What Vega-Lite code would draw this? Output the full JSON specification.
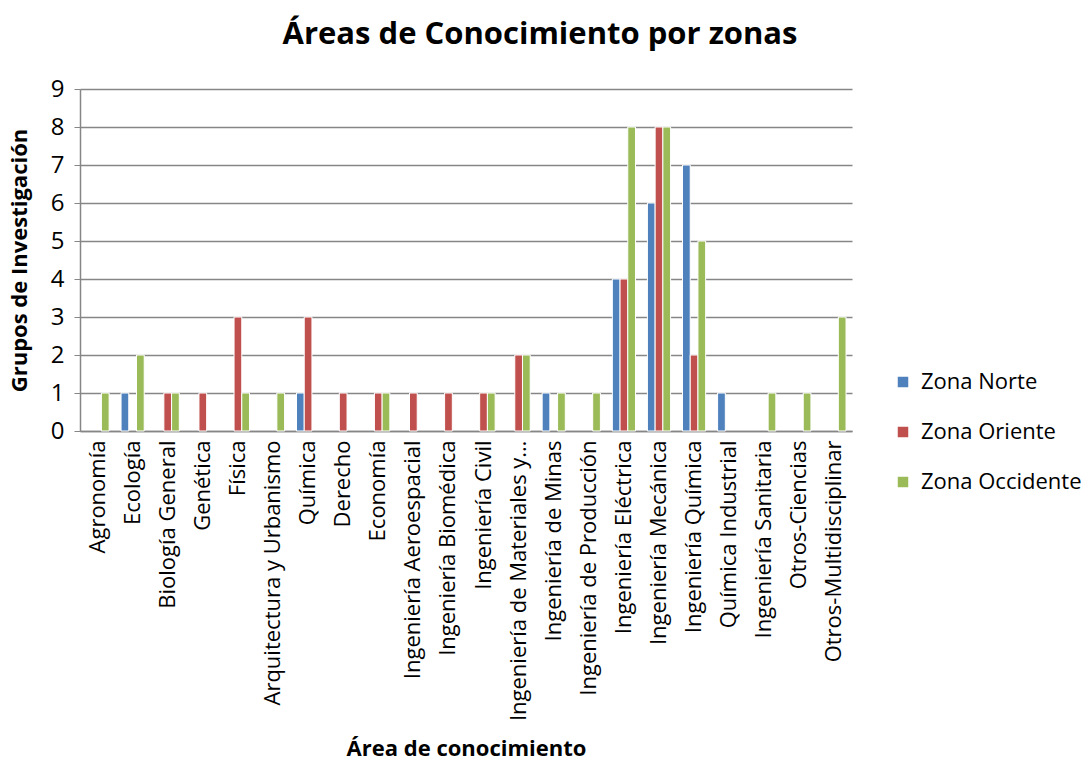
{
  "$schema": "https://vega.github.io/schema/vega-lite/v6.json",
  "autosize": {"type": "none"},
  "padding": {"left": 80, "top": 89, "right": 234, "bottom": 332},
  "width": 772,
  "height": 342,
  "background": "white",
  "title": {
    "text": "Áreas de Conocimiento por zonas",
    "font": "Open Sans",
    "fontSize": 31,
    "fontWeight": "bold",
    "color": "#000000",
    "anchor": "middle",
    "dx": 74,
    "offset": 26
  },
  "config": {
    "view": {"stroke": null},
    "font": "Open Sans"
  },
  "data": {
    "values": [
      {"area": "Agronomía", "zona": "Zona Occidente", "valor": 1},
      {"area": "Ecología", "zona": "Zona Norte", "valor": 1},
      {"area": "Ecología", "zona": "Zona Occidente", "valor": 2},
      {"area": "Biología General", "zona": "Zona Oriente", "valor": 1},
      {"area": "Biología General", "zona": "Zona Occidente", "valor": 1},
      {"area": "Genética", "zona": "Zona Oriente", "valor": 1},
      {"area": "Física", "zona": "Zona Oriente", "valor": 3},
      {"area": "Física", "zona": "Zona Occidente", "valor": 1},
      {"area": "Arquitectura y Urbanismo", "zona": "Zona Occidente", "valor": 1},
      {"area": "Química", "zona": "Zona Norte", "valor": 1},
      {"area": "Química", "zona": "Zona Oriente", "valor": 3},
      {"area": "Derecho", "zona": "Zona Oriente", "valor": 1},
      {"area": "Economía", "zona": "Zona Oriente", "valor": 1},
      {"area": "Economía", "zona": "Zona Occidente", "valor": 1},
      {"area": "Ingeniería Aeroespacial", "zona": "Zona Oriente", "valor": 1},
      {"area": "Ingeniería Biomédica", "zona": "Zona Oriente", "valor": 1},
      {"area": "Ingeniería Civil", "zona": "Zona Oriente", "valor": 1},
      {"area": "Ingeniería Civil", "zona": "Zona Occidente", "valor": 1},
      {"area": "Ingeniería de Materiales y…", "zona": "Zona Oriente", "valor": 2},
      {"area": "Ingeniería de Materiales y…", "zona": "Zona Occidente", "valor": 2},
      {"area": "Ingeniería de Minas", "zona": "Zona Norte", "valor": 1},
      {"area": "Ingeniería de Minas", "zona": "Zona Occidente", "valor": 1},
      {"area": "Ingeniería de Producción", "zona": "Zona Occidente", "valor": 1},
      {"area": "Ingeniería Eléctrica", "zona": "Zona Norte", "valor": 4},
      {"area": "Ingeniería Eléctrica", "zona": "Zona Oriente", "valor": 4},
      {"area": "Ingeniería Eléctrica", "zona": "Zona Occidente", "valor": 8},
      {"area": "Ingeniería Mecánica", "zona": "Zona Norte", "valor": 6},
      {"area": "Ingeniería Mecánica", "zona": "Zona Oriente", "valor": 8},
      {"area": "Ingeniería Mecánica", "zona": "Zona Occidente", "valor": 8},
      {"area": "Ingeniería Química", "zona": "Zona Norte", "valor": 7},
      {"area": "Ingeniería Química", "zona": "Zona Oriente", "valor": 2},
      {"area": "Ingeniería Química", "zona": "Zona Occidente", "valor": 5},
      {"area": "Química Industrial", "zona": "Zona Norte", "valor": 1},
      {"area": "Ingeniería Sanitaria", "zona": "Zona Occidente", "valor": 1},
      {"area": "Otros-Ciencias", "zona": "Zona Occidente", "valor": 1},
      {"area": "Otros-Multidisciplinar", "zona": "Zona Occidente", "valor": 3}
    ]
  },
  "mark": {"type": "bar", "stroke": "white", "strokeWidth": 1},
  "encoding": {
    "x": {
      "field": "area",
      "type": "nominal",
      "sort": ["Agronomía", "Ecología", "Biología General", "Genética", "Física", "Arquitectura y Urbanismo", "Química", "Derecho", "Economía", "Ingeniería Aeroespacial", "Ingeniería Biomédica", "Ingeniería Civil", "Ingeniería de Materiales y…", "Ingeniería de Minas", "Ingeniería de Producción", "Ingeniería Eléctrica", "Ingeniería Mecánica", "Ingeniería Química", "Química Industrial", "Ingeniería Sanitaria", "Otros-Ciencias", "Otros-Multidisciplinar"],
      "scale": {"paddingInner": 0.34, "paddingOuter": 0.17},
      "axis": {
        "title": "Área de conocimiento",
        "titleFont": "Open Sans",
        "titleFontSize": 22,
        "titleFontWeight": "bold",
        "titleColor": "#000000",
        "titleBaseline": "alphabetic",
        "titleY": 324,
        "labelAngle": -90,
        "labelFont": "Open Sans",
        "labelFontSize": 22,
        "labelColor": "#000000",
        "labelPadding": 9,
        "labelLimit": 400,
        "ticks": false,
        "domainColor": "#868686",
        "domainWidth": 1.5,
        "grid": false
      }
    },
    "xOffset": {
      "field": "zona",
      "type": "nominal",
      "scale": {"domain": ["Zona Norte", "Zona Oriente", "Zona Occidente"], "paddingInner": 0, "paddingOuter": 0}
    },
    "y": {
      "field": "valor",
      "type": "quantitative",
      "scale": {"domain": [0, 9], "nice": false},
      "axis": {
        "title": "Grupos de Investigación",
        "titleFont": "Open Sans",
        "titleFontSize": 22,
        "titleFontWeight": "bold",
        "titleColor": "#000000",
        "titleX": -49,
        "values": [0, 1, 2, 3, 4, 5, 6, 7, 8, 9],
        "labelFont": "Open Sans",
        "labelFontSize": 24,
        "labelColor": "#000000",
        "labelPadding": 10,
        "tickSize": 6,
        "tickColor": "#868686",
        "domainColor": "#868686",
        "domainWidth": 1.5,
        "gridColor": "#868686",
        "gridWidth": 1.5
      }
    },
    "color": {
      "field": "zona",
      "type": "nominal",
      "scale": {"domain": ["Zona Norte", "Zona Oriente", "Zona Occidente"], "range": ["#4F81BD", "#C0504D", "#9BBB59"]},
      "legend": {
        "title": null,
        "orient": "none",
        "legendX": 812,
        "legendY": 282,
        "symbolType": "square",
        "symbolSize": 110,
        "symbolStrokeWidth": 0,
        "labelFont": "Open Sans",
        "labelFontSize": 22,
        "labelLimit": 300,
        "labelColor": "#000000",
        "rowPadding": 28,
        "labelOffset": 7
      }
    }
  }
}
